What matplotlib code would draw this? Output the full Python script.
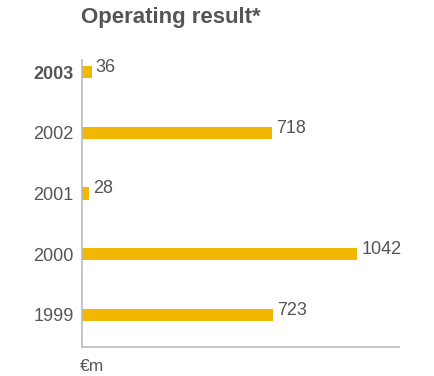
import matplotlib.pyplot as plt

plt.rcParams['font.family'] = ['Liberation Sans', 'DejaVu Sans']

years = ['1999', '2000', '2001', '2002', '2003']
operating_result = [723, 1042, 28, 718, 36]

bar_color = '#f2b700'
text_color = '#555555'
axis_color = '#bbbbbb'

fig = plt.figure(figsize=(4.35, 3.76), dpi=100)
ax = fig.add_axes([0.1885, 0.0771, 0.7285, 0.7633])

pos = list(range(len(years)))
ax.barh(pos, operating_result, height=0.2, color=bar_color)

for p, v in zip(pos, operating_result):
    ax.annotate(str(v), (v, p), xytext=(3, 0), textcoords='offset points',
                ha='left', va='baseline', fontsize=13, color=text_color)

ax.set_xlim(0, 1200)
ax.set_ylim(-0.53, 4.2)
ax.set_yticks(pos)
ax.set_yticklabels(years, fontsize=13, color=text_color)
ax.get_yticklabels()[-1].set_fontweight('bold')
ax.tick_params(axis='y', length=0, pad=6)
ax.set_xticks([])

for side in ['top', 'right']:
    ax.spines[side].set_visible(False)
for side in ['left', 'bottom']:
    ax.spines[side].set_color(axis_color)
    ax.spines[side].set_linewidth(1.2)

fig.text(0.186, 1 - 23 / 376, 'Operating result*', fontsize=16,
         fontweight='bold', color=text_color, va='baseline')
fig.text(0.184, 1 - 371 / 376, '€m', fontsize=12.5, color=text_color,
         va='baseline')

fig.savefig('out.png', dpi=100, facecolor='white')
